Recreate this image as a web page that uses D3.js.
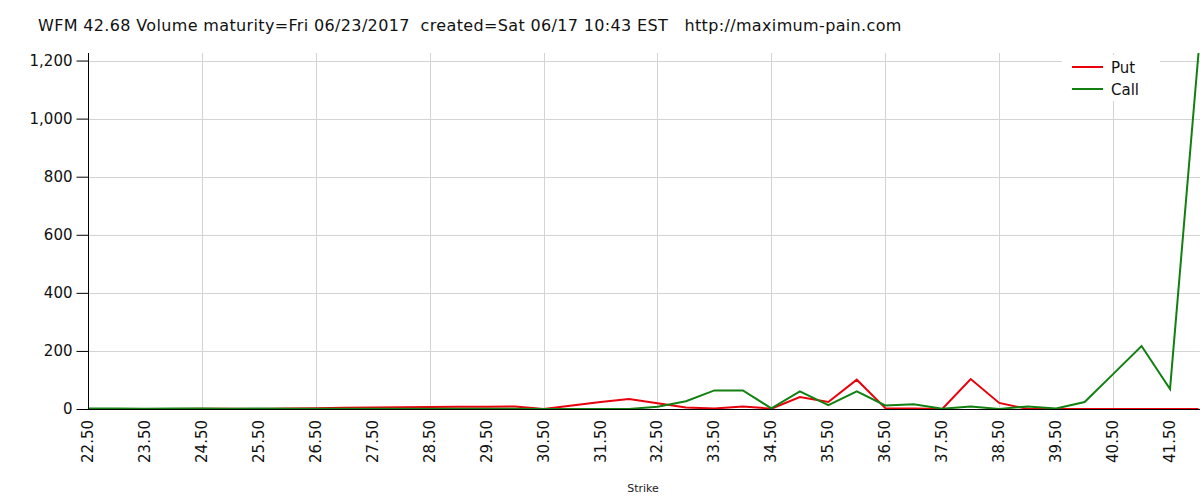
<!DOCTYPE html>
<html>
<head>
<meta charset="utf-8">
<script src="https://cdn.jsdelivr.net/npm/d3@7"></script>
<style>
  body { margin: 0; background: #fff; }
  svg { display: block; font-family: "DejaVu Sans", Verdana, sans-serif; }
</style>
</head>
<body>
<svg id="chart" width="1200" height="500"></svg>
<script>
const titleText = "WFM 42.68 Volume maturity=Fri 06/23/2017  created=Sat 06/17 10:43 EST   http://maximum-pain.com";
const strikes = [22.5,23.0,23.5,24.0,24.5,25.0,25.5,26.0,26.5,27.0,27.5,28.0,28.5,29.0,29.5,30.0,30.5,31.0,31.5,32.0,
                 32.5,33.0,33.5,34.0,34.5,35.0,35.5,36.0,36.5,37.0,37.5,38.0,38.5,39.0,39.5,40.0,40.5,41.0,41.5,42.0];
const putValues = [0,0,0,0,1,1,0,2,3,4,5,6,7,8,8,9,0,12,24,34,
                   20,5,2,9,1,41,24,101,3,2,0,103,21,0,0,0,0,0,0,0];
const callValues = [2,2,1,2,2,1,2,1,1,1,1,1,1,1,1,1,0,0,0,0,
                    8,27,64,64,2,61,13,61,12,16,1,9,0,9,2,24,120,217,69,1226];
const yTicks = [0,200,400,600,800,1000,1200];
const xLabelStrikes = strikes.filter((d,i) => i % 2 === 0 && i < 39);
const xGridStrikes = [24.5,26.5,28.5,30.5,32.5,34.5,36.5,38.5,40.5];
const seriesNames = ["Put","Call"];
const seriesColors = ["#e8000b","#118011"];

const svg = d3.select("#chart");
const margin = {left: 88, right: 1, top: 53, bottom: 91};
const W = 1200, H = 500;

const x = d3.scalePoint().domain(strikes).range([margin.left, W - margin.right - 0.5]);
const y = d3.scaleLinear().domain([0, d3.max(callValues.concat(putValues))]).range([H - margin.bottom, margin.top]);

// title
svg.append("text").attr("x", 38).attr("y", 31)
  .attr("font-size", 16).attr("letter-spacing", 0.35).attr("fill", "#111")
  .style("white-space", "pre").attr("xml:space", "preserve")
  .text(titleText);

// gridlines
const g = svg.append("g");
g.selectAll(".hg").data(yTicks.filter(d => d > 0)).enter().append("line")
  .attr("x1", margin.left).attr("x2", W)
  .attr("y1", d => Math.round(y(d)) + 0.5).attr("y2", d => Math.round(y(d)) + 0.5)
  .attr("stroke", "#d3d3d3").attr("stroke-width", 1);
g.selectAll(".vg").data(xGridStrikes).enter().append("line")
  .attr("x1", d => Math.round(x(d)) + 0.5).attr("x2", d => Math.round(x(d)) + 0.5)
  .attr("y1", margin.top).attr("y2", H - margin.bottom)
  .attr("stroke", "#d3d3d3").attr("stroke-width", 1);

// legend background
const lg = svg.append("g");
lg.append("rect").attr("x", 1062).attr("y", 55).attr("width", 98).attr("height", 46).attr("fill", "#fff");

// lines
const line = d3.line().x((d,i) => x(strikes[i])).y(d => y(d));
[putValues, callValues].forEach((vals, k) => {
  svg.append("path").datum(vals)
    .attr("d", line).attr("fill", "none")
    .attr("stroke", seriesColors[k]).attr("stroke-width", 2)
    .attr("stroke-linejoin", "miter");
});

// y axis
const yAxis = d3.axisLeft(y).tickValues(yTicks).tickSize(12).tickPadding(4).tickFormat(d3.format(","));
const ya = svg.append("g").attr("transform", `translate(${margin.left + 0.5},0)`).call(yAxis);
ya.select(".domain").remove();
ya.selectAll("text").attr("font-size", 15).attr("fill", "#111").attr("font-family", "DejaVu Sans, Verdana, sans-serif");
ya.selectAll("line").attr("stroke", "#000");
svg.append("line").attr("x1", margin.left + 0.5).attr("x2", margin.left + 0.5)
  .attr("y1", margin.top).attr("y2", y(0)).attr("stroke", "#000");
svg.append("line").attr("x1", margin.left).attr("x2", W)
  .attr("y1", Math.round(y(0)) + 0.5).attr("y2", Math.round(y(0)) + 0.5).attr("stroke", "#000");

// x axis labels
const xa = svg.append("g");
xa.selectAll("text").data(xLabelStrikes).enter().append("text")
  .attr("transform", d => `translate(${x(d) + 5},${y(0) + 11}) rotate(-90)`)
  .attr("text-anchor", "end")
  .attr("font-size", 15).attr("fill", "#111")
  .text(d => d3.format(".2f")(d));

svg.append("text").attr("x", 643).attr("y", 492).attr("text-anchor", "middle")
  .attr("font-size", 11).attr("fill", "#222").text("Strike");

// legend
seriesNames.forEach((n, k) => {
  const yy = 67 + k * 22;
  lg.append("line").attr("x1", 1072).attr("x2", 1103).attr("y1", yy).attr("y2", yy)
    .attr("stroke", seriesColors[k]).attr("stroke-width", 2);
  lg.append("text").attr("x", 1111).attr("y", yy + 5.5).attr("font-size", 15).attr("fill", "#111").text(n);
});
</script>
</body>
</html>
